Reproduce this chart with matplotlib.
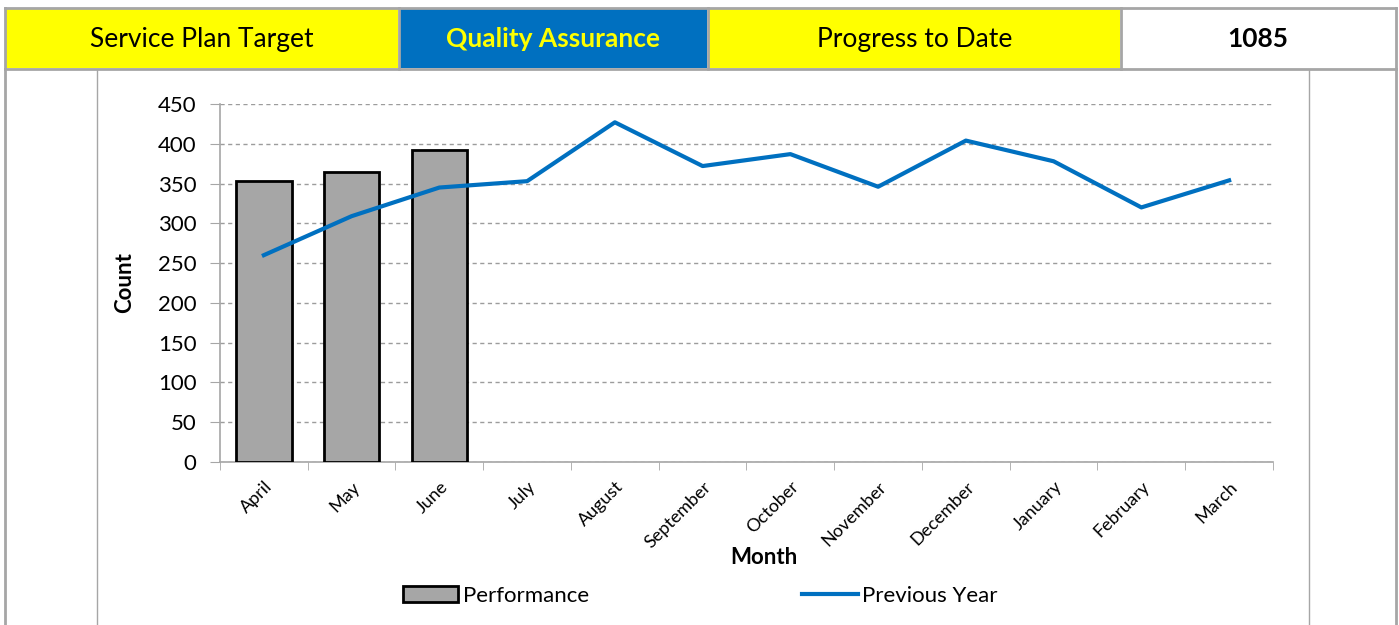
import matplotlib
matplotlib.use("Agg")
import matplotlib.pyplot as plt
from matplotlib.patches import Rectangle, Patch
from matplotlib.lines import Line2D

months = ["April", "May", "June", "July", "August", "September", "October",
          "November", "December", "January", "February", "March"]
performance = [353, 364, 392]
previous_year = [260, 309, 345, 353, 427, 372, 387, 346, 404, 378, 320, 354]
header_labels = ["Service Plan Target", "Quality Assurance", "Progress to Date", "1085"]

W, H = 1399, 625
plt.rcParams['font.family'] = ['Lato', 'DejaVu Sans']
fig = plt.figure(figsize=(W / 100, H / 100), dpi=100)

def fx(px):
    return px / W

def fy(py):
    return 1 - py / H

# header boxes
boxes = [(6, 398, "#FFFF00", "black", "normal"),
         (400, 707, "#0070C0", "#FFFF00", "bold"),
         (709, 1120, "#FFFF00", "black", "normal"),
         (1122, 1394, "white", "black", "bold")]
for (x0, x1, fc, tc, fw), lab in zip(boxes, header_labels):
    fig.patches.append(Rectangle((fx(x0), fy(68)), fx(x1) - fx(x0), fy(9) - fy(68),
                                 transform=fig.transFigure, facecolor=fc,
                                 edgecolor="none", zorder=1))
    fig.text(fx((x0 + x1) / 2), fy(39), lab, ha="center", va="center",
             fontsize=19, color=tc, fontweight=fw)

gray = "#A6A6A6"
def hline(y, x0, x1, lw=2):
    fig.lines.append(Line2D([fx(x0), fx(x1)], [fy(y), fy(y)], transform=fig.transFigure,
                            color=gray, lw=lw))
def vline(x, y0, y1, lw=2):
    fig.lines.append(Line2D([fx(x), fx(x)], [fy(y0), fy(y1)], transform=fig.transFigure,
                            color=gray, lw=lw))

hline(8, 5, 1396)
hline(69, 5, 1396)
for x in (5, 399, 708, 1121, 1396):
    vline(x, 8, 69)
vline(5, 69, 625)
vline(1396, 69, 625)
vline(97, 70, 625, lw=1)
vline(1309, 70, 625, lw=1)

# plot axes
ax = fig.add_axes([fx(220), fy(462), fx(1273) - fx(220), fy(104) - fy(462)])
x = list(range(len(months)))
ax.bar(x[:len(performance)], performance, width=0.63, color="#A6A6A6",
       edgecolor="black", linewidth=2, zorder=3, label="Performance")
ax.plot(x, previous_year, color="#0070C0", lw=3, zorder=4, label="Previous Year")

ax.set_xlim(-0.5, len(months) - 0.5)
ax.set_ylim(0, 450)
ax.set_yticks(range(0, 451, 50))
ax.tick_params(axis="y", labelsize=16, length=7, color=gray, pad=10)
ax.yaxis.grid(True, linestyle=(0, (3, 2.5)), color="#9C9C9C", lw=1)
ax.set_axisbelow(True)
ax.set_xticks(x)
ax.set_xticklabels(months, rotation=45, ha="right", rotation_mode="anchor", fontsize=13)
ax.tick_params(axis="x", length=0, pad=12)
ax.set_xticks([i - 0.5 for i in range(len(months) + 1)], minor=True)
ax.tick_params(axis="x", which="minor", length=6, color=gray)
for s in ("top", "right"):
    ax.spines[s].set_visible(False)
for s in ("left", "bottom"):
    ax.spines[s].set_color(gray)
    ax.spines[s].set_linewidth(1.2)

ax.set_ylabel("Count", fontsize=16, fontweight="bold", labelpad=16)
fig.text(fx(764), fy(557), "Month", ha="center", va="center", fontsize=16, fontweight="bold")

handles = [Patch(facecolor="#A6A6A6", edgecolor="black", linewidth=2, label="Performance"),
           Line2D([0], [0], color="#0070C0", lw=3, label="Previous Year")]
fig.legend(handles=handles, loc="center", bbox_to_anchor=(fx(700), fy(596)), ncol=2,
           frameon=False, fontsize=16, columnspacing=9.6, handlelength=2.5,
           handletextpad=0.2)

fig.savefig("out.png", dpi=100)
